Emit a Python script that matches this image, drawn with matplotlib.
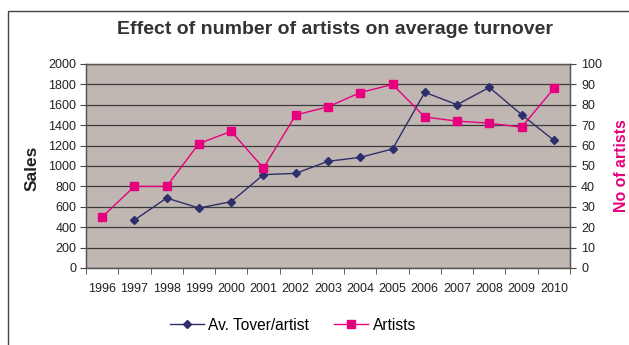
import matplotlib
matplotlib.use("Agg")
import matplotlib.pyplot as plt
import numpy as np
from matplotlib.patches import Rectangle

plt.rcParams['font.family'] = ['Liberation Sans', 'DejaVu Sans']

years = ["1996", "1997", "1998", "1999", "2000", "2001", "2002", "2003",
         "2004", "2005", "2006", "2007", "2008", "2009", "2010"]
av_turnover = [np.nan, 470, 686, 588, 650, 915, 928, 1046,
               1085, 1167, 1722, 1601, 1771, 1503, 1252]
artists = [25, 40, 40, 61, 67, 49, 75, 79, 86, 90, 74, 72, 71, 69, 88]

navy = "#2E2E6B"
pink = "#E6007E"
grid = "#3A3A3A"

fig = plt.figure(figsize=(6.29, 3.45), dpi=100)
W, H = 629, 345

# outer chart border (left and top edges visible)
fig.add_artist(Rectangle((8 / W, -0.1), 1.2, 1 - 10.5 / H + 0.1,
                         transform=fig.transFigure, fill=False,
                         edgecolor="#444444", linewidth=1.0))

ax = fig.add_axes([86 / W, 1 - 268 / H, 484 / W, 204 / H])
ax.set_facecolor("#C0B7B3")
x = np.arange(len(years))

ax.set_xlim(-0.5, len(years) - 0.5)
ax.set_ylim(0, 2000)
ax.set_yticks(np.arange(0, 2001, 200))
ax.yaxis.grid(True, color=grid, linewidth=0.9)
ax.set_axisbelow(True)
ax.set_xticks(x)
ax.set_xticklabels(years)
ax.set_xticks(np.arange(-0.5, len(years)), minor=True)
ax.tick_params(axis="x", which="major", length=0, pad=11, labelsize=9, colors="#222222")
ax.tick_params(axis="x", which="minor", length=4, direction="out", color="#444444")
ax.tick_params(axis="y", length=4, pad=3, labelsize=9, colors="#222222")
ax.tick_params(axis="y", color="#444444")
for s in ax.spines.values():
    s.set_color("#555555")
    s.set_linewidth(0.9)

ax2 = ax.twinx()
ax2.set_ylim(0, 100)
ax2.set_yticks(np.arange(0, 101, 10))
ax2.tick_params(axis="y", length=4, pad=4, labelsize=9, colors="#222222")
ax2.tick_params(axis="y", color="#444444")
for s in ax2.spines.values():
    s.set_color("#555555")
    s.set_linewidth(0.9)

l1, = ax.plot(x, av_turnover, color=navy, marker="D", markersize=4.5,
              linewidth=1.0, label="Av. Tover/artist")
l2, = ax2.plot(x, artists, color=pink, marker="s", markersize=5.2,
               linewidth=1.0, label="Artists")

fig.text(335 / W, 1 - 30 / H, "Effect of number of artists on average turnover",
         ha="center", va="center", fontsize=14, fontweight="bold", color="#333333")
fig.text(32 / W, 1 - 168 / H, "Sales", rotation=90, ha="center", va="center",
         fontsize=12.5, fontweight="bold", color="#222222")
fig.text(621 / W, 1 - 166 / H, "No of artists", rotation=90, ha="center", va="center",
         fontsize=11.4, fontweight="bold", color=pink)

fig.legend([l1, l2], ["Av. Tover/artist", "Artists"], loc="center",
           bbox_to_anchor=(293 / W, 1 - 325 / H), ncol=2, frameon=False,
           fontsize=11.2, handlelength=2.2, columnspacing=1.6, handletextpad=0.3)

fig.savefig("out.png", dpi=100)
